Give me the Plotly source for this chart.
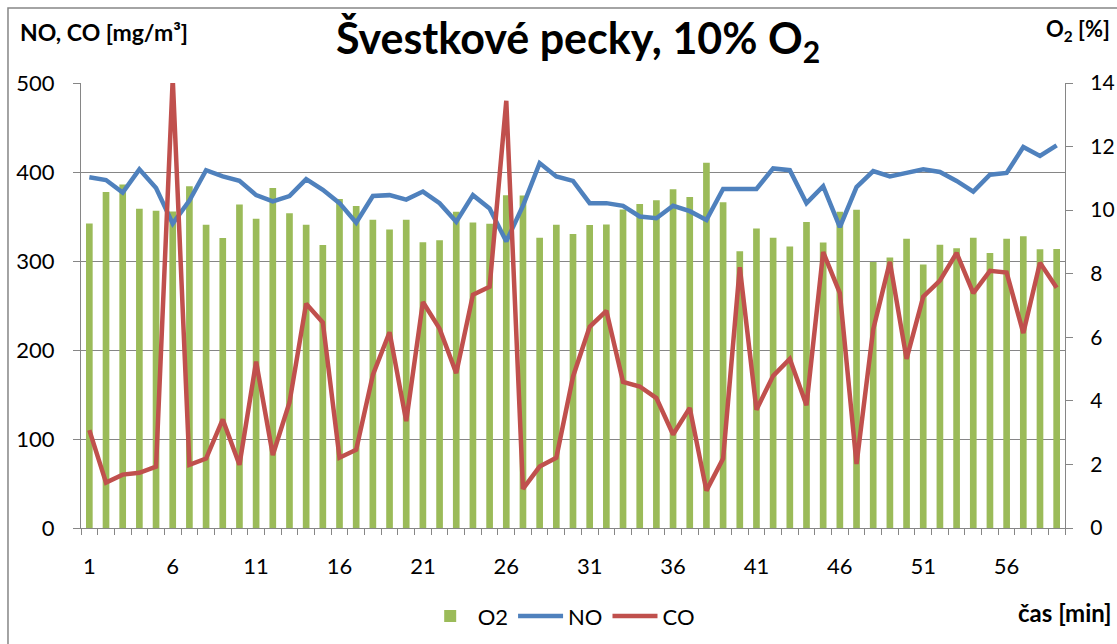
import plotly.graph_objects as go

minutes = list(range(1, 60))

o2 = [9.58, 10.57, 10.81, 10.04, 9.98, 9.96, 10.75, 9.54, 9.12, 10.18,
      9.73, 10.70, 9.90, 9.54, 8.90, 10.35, 10.13, 9.70, 9.39, 9.70,
      8.99, 9.05, 9.95, 9.61, 9.57, 10.47, 10.46, 9.13, 9.54, 9.25,
      9.53, 9.55, 10.02, 10.19, 10.31, 10.66, 10.41, 11.49, 10.25, 8.71,
      9.42, 9.13, 8.86, 9.63, 8.98, 9.95, 10.01, 8.37, 8.51, 9.10,
      8.29, 8.91, 8.80, 9.13, 8.65, 9.10, 9.18, 8.77, 8.78]

no = [394, 391, 377, 403, 382, 342, 368, 402, 395, 390,
      374, 367, 373, 392, 380, 365, 343, 373, 374, 369,
      378, 365, 344, 374, 359, 322, 362, 410, 395, 390,
      365, 365, 362, 350, 348, 362, 356, 346, 381, 381,
      381, 404, 402, 365, 384, 338, 383, 401, 395, 399,
      403, 400, 390, 378, 397, 399, 428, 418, 430]

co = [110, 51, 60, 62, 69, 505, 71, 78, 122, 71,
      187, 82, 141, 252, 231, 79, 88, 172, 220, 120,
      254, 224, 174, 262, 271, 480, 44, 69, 79, 170,
      226, 244, 164, 159, 146, 105, 135, 42, 78, 293,
      133, 171, 190, 138, 310, 264, 72, 223, 299, 190,
      260, 278, 309, 264, 289, 287, 219, 298, 270]

x_tick_vals = [1, 6, 11, 16, 21, 26, 31, 36, 41, 46, 51, 56]

FONT = "Lato, Carlito, Calibri, sans-serif"
GRAY = "#868686"
O2_MAX = 14
NOCO_MAX = 500
NOCO_STEP = 100

fig = go.Figure()
fig.add_trace(go.Bar(x=minutes, y=o2, name="O2", marker_color="#9BBB59",
                     marker_line_width=0, yaxis="y"))
fig.add_trace(go.Scatter(x=minutes, y=no, name="NO", mode="lines",
                         line=dict(color="#4F81BD", width=4.5), yaxis="y2"))
fig.add_trace(go.Scatter(x=minutes, y=co, name="CO", mode="lines",
                         line=dict(color="#C0504D", width=4.5), yaxis="y2"))

fig.update_layout(
    width=1117, height=644,
    margin=dict(l=81, r=52, t=83, b=116, autoexpand=False),
    paper_bgcolor="white", plot_bgcolor="white",
    font=dict(family=FONT, size=22, color="black"),
    bargap=0.6,
    showlegend=True,
    title=dict(text="<b>Švestkové pecky, 10% O<sub>2</sub></b>",
               font=dict(family=FONT, size=43, color="black"),
               x=0.5175, xanchor="center", xref="container",
               y=0.94, yanchor="middle", yref="container"),
    xaxis=dict(range=[0.5, 59.5], tickmode="array", tickvals=x_tick_vals,
               ticks="outside", ticklen=6, tickcolor="rgba(0,0,0,0)",
               ticklabelstandoff=12, automargin=False,
               showline=True, linecolor=GRAY, linewidth=1.3, showgrid=False,
               zeroline=False,
               minor=dict(ticks="outside", ticklen=6, tick0=0.5, dtick=1,
                          tickcolor=GRAY, tickwidth=1.3, showgrid=False)),
    yaxis=dict(range=[0, O2_MAX], dtick=2, side="right", ticks="outside",
               ticklen=7, tickcolor=GRAY, tickwidth=1.3, showgrid=False,
               showline=True, linecolor=GRAY, linewidth=1.3, zeroline=False,
               ticklabelstandoff=13, automargin=False,
               tickfont=dict(size=21),
               minor=dict(tick0=0, dtick=O2_MAX * NOCO_STEP / NOCO_MAX,
                          showgrid=True, gridcolor=GRAY, gridwidth=1.3,
                          ticks="")),
    yaxis2=dict(range=[0, NOCO_MAX], dtick=NOCO_STEP, side="left",
                overlaying="y",
                ticks="outside", ticklen=7, tickcolor=GRAY, tickwidth=1.3,
                showgrid=False,
                showline=True, linecolor=GRAY, linewidth=1.3, zeroline=False,
                ticklabelstandoff=14, automargin=False),
    legend=dict(orientation="h", x=0.488, xanchor="center",
                y=-0.198, yanchor="middle", font=dict(size=22),
                itemwidth=45,
                bgcolor="rgba(0,0,0,0)", traceorder="normal"),
    annotations=[
        dict(text="<b>NO, CO [mg/m³]</b>", xref="paper", yref="paper",
             x=-0.064, y=1.115, xanchor="left", yanchor="middle",
             showarrow=False, font=dict(size=23)),
        dict(text="<b>O<sub>2</sub> [%]</b>", xref="paper", yref="paper",
             x=1.0478, y=1.119, xanchor="right", yanchor="middle",
             showarrow=False, font=dict(size=22)),
        dict(text="<b>čas [min]</b>", xref="paper", yref="paper",
             x=1.0498, y=-0.189, xanchor="right", yanchor="middle",
             showarrow=False, font=dict(size=24)),
    ],
    shapes=[
        dict(type="rect", xref="paper", yref="paper",
             x0=-0.0742, x1=1.07, y0=-0.3, y1=1.1687,
             line=dict(color=GRAY, width=1.5), fillcolor="rgba(0,0,0,0)",
             layer="below"),
    ],
)

fig.write_html(
    "out.html",
    config={"displayModeBar": False},
    post_script="document.body.style.margin='0';"
                "document.body.style.overflow='hidden';",
)
